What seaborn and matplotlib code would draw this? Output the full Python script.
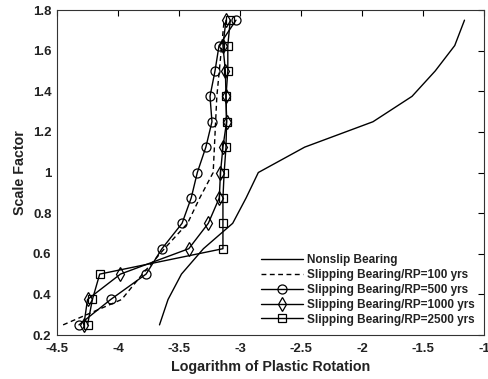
import matplotlib
matplotlib.use("Agg")
import matplotlib.pyplot as plt
import seaborn as sns
import numpy as np

scale = [0.25, 0.375, 0.5, 0.625, 0.75, 0.875, 1.0, 1.125, 1.25, 1.375, 1.5, 1.625, 1.75]

nonslip = [-3.66, -3.59, -3.48, -3.30, -3.06, -2.95, -2.85, -2.47, -1.91, -1.59, -1.40, -1.24, -1.16]
rp100 = [-4.45, -3.97, -3.80, -3.62, -3.43, -3.33, -3.22, -3.21, -3.20, -3.19, -3.17, -3.15, -3.13]
rp500 = [-4.32, -4.06, -3.77, -3.64, -3.475, -3.40, -3.35, -3.28, -3.23, -3.246, -3.205, -3.172, -3.033]
rp1000 = [-4.28, -4.25, -3.98, -3.42, -3.26, -3.17, -3.16, -3.14, -3.11, -3.115, -3.12, -3.14, -3.115]
rp2500 = [-4.25, -4.21, -4.15, -3.14, -3.14, -3.14, -3.13, -3.115, -3.11, -3.115, -3.10, -3.10, -3.08]

labels = ["Nonslip Bearing", "Slipping Bearing/RP=100 yrs", "Slipping Bearing/RP=500 yrs",
          "Slipping Bearing/RP=1000 yrs", "Slipping Bearing/RP=2500 yrs"]
xticks = [-4.5, -4, -3.5, -3, -2.5, -2, -1.5, -1]
xticklabels = ["-4.5", "-4", "-3.5", "-3", "-2.5", "-2", "-1.5", "-1"]
yticks = [0.2, 0.4, 0.6, 0.8, 1.0, 1.2, 1.4, 1.6, 1.8]
yticklabels = ["0.2", "0.4", "0.6", "0.8", "1", "1.2", "1.4", "1.6", "1.8"]

sns.set_theme(style="white")
plt.rcParams['font.family'] = ['Liberation Sans', 'DejaVu Sans']

fig = plt.figure(figsize=(4.89, 3.79), dpi=100)
ax = fig.add_axes([0.1166, 0.116, 0.8732, 0.8576])

series = [nonslip, rp100, rp500, rp1000, rp2500]
styles = [dict(linestyle='-', marker=None),
          dict(linestyle=(0, (3.5, 2.5)), marker=None),
          dict(linestyle='-', marker='o', markersize=6.5),
          dict(linestyle='-', marker='d', markersize=7),
          dict(linestyle='-', marker='s', markersize=5.5)]
for s, lab, st in zip(series, labels, styles):
    kw = dict(st)
    if kw['marker'] is None:
        kw.pop('marker')
    else:
        kw.update(markerfacecolor='none', markeredgecolor='black', markeredgewidth=0.9)
    sns.lineplot(x=s, y=scale, sort=False, estimator=None, color='black', linewidth=1.0,
                 ax=ax, label=lab, **kw)

ax.set_xlim(-4.5, -1)
ax.set_ylim(0.2, 1.8)
ax.set_xticks(xticks)
ax.set_xticklabels(xticklabels)
ax.set_yticks(yticks)
ax.set_yticklabels(yticklabels)
ax.tick_params(axis='both', direction='in', length=4, width=0.8, top=True, right=True,
               labelsize=9.5, colors='black')
ax.tick_params(axis='x', pad=6)
ax.tick_params(axis='y', pad=4)
for lab in ax.get_xticklabels() + ax.get_yticklabels():
    lab.set_fontweight('bold')
    lab.set_color('#222222')
for sp in ax.spines.values():
    sp.set_color('#333333')
    sp.set_linewidth(0.8)
ax.set_xlabel("Logarithm of Plastic Rotation", fontsize=10.3, fontweight='bold', color='#222222', labelpad=3)
ax.set_ylabel("Scale Factor", fontsize=10.3, fontweight='bold', color='#222222', labelpad=4)

leg = ax.legend(loc='lower right', frameon=False, fontsize=8.5, handlelength=3.6,
                borderaxespad=0.4, labelspacing=0.25, handletextpad=0.3)
for t in leg.get_texts():
    t.set_fontweight('bold')
    t.set_color('#222222')

fig.savefig("out.png", dpi=100)
